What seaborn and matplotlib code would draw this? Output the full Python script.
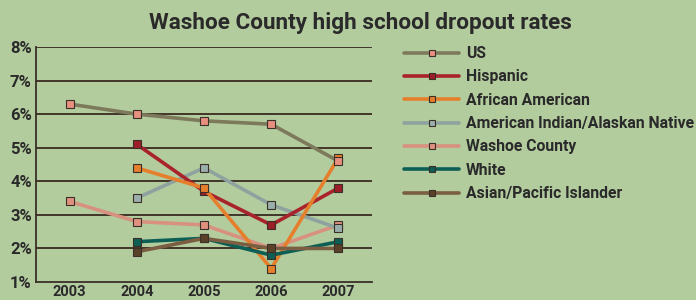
import matplotlib
matplotlib.use("Agg")
import matplotlib.pyplot as plt
import seaborn as sns
import pandas as pd
import numpy as np

years = ["2003", "2004", "2005", "2006", "2007"]
us = [6.3, 6.0, 5.8, 5.7, 4.6]
hispanic = [np.nan, 5.1, 3.7, 2.7, 3.8]
african_american = [np.nan, 4.4, 3.8, 1.4, 4.7]
american_indian = [np.nan, 3.5, 4.4, 3.3, 2.6]
washoe = [3.4, 2.8, 2.7, 2.0, 2.7]
white = [np.nan, 2.2, 2.3, 1.8, 2.2]
asian = [np.nan, 1.9, 2.3, 2.0, 2.0]

series_names = ["US", "Hispanic", "African American", "American Indian/Alaskan Native",
                "Washoe County", "White", "Asian/Pacific Islander"]
series_values = [us, hispanic, african_american, american_indian, washoe, white, asian]

line_colors = ["#7d7a5c", "#a8232b", "#e57f2b", "#8ea39f", "#d8907f", "#0d5e55", "#7b5d42"]
marker_colors = ["#e8907f", "#9c1e26", "#e57f2b", "#9aaeab", "#e0907f", "#0d5e55", "#5a4028"]
draw_order = [4, 3, 1, 2, 5, 6, 0]

bg = "#b3cc9e"
ink = "#2a2a2a"

rows = []
for name, vals in zip(series_names, series_values):
    for i, (y, v) in enumerate(zip(years, vals)):
        if not np.isnan(v):
            rows.append({"series": name, "x": i, "year": y, "rate": v})
df = pd.DataFrame(rows)

sns.set_theme(style="white")
plt.rcParams["font.family"] = ["Roboto", "DejaVu Sans"]

fig = plt.figure(figsize=(6.96, 3.0), dpi=100, facecolor=bg)
ax = fig.add_axes([36 / 696, 18 / 300, (372 - 36) / 696, (282 - 47) / 300])
ax.set_facecolor(bg)

for idx in draw_order:
    name = series_names[idx]
    sub = df[df["series"] == name]
    sns.lineplot(data=sub, x="x", y="rate", ax=ax, color=line_colors[idx], linewidth=2.6,
                 marker="s", markersize=5.5, markerfacecolor=marker_colors[idx],
                 markeredgecolor="#3a3028", markeredgewidth=0.8, legend=False, zorder=3)

ax.set_xlim(-0.5, 4.5)
ax.set_ylim(1, 8)
ax.set_yticks(range(1, 9))
ax.set_yticklabels([f"{v}%" for v in range(1, 9)], fontsize=12, fontweight="bold", color=ink)
ax.set_xticks(range(5))
ax.set_xticklabels(years, fontsize=10.5, fontweight="bold", color=ink)
ax.set_xticks([0.5, 1.5, 2.5, 3.5], minor=True)
ax.tick_params(axis="x", which="major", length=0, pad=2)
ax.tick_params(axis="x", which="minor", length=5, direction="in", color="#3a3028", width=1.2)
ax.tick_params(axis="y", length=0, pad=3)
ax.set_xlabel("")
ax.set_ylabel("")
for v in range(2, 9):
    ax.axhline(v, color="#3a2a20", linewidth=1.3, zorder=1)
for s in ["top", "right"]:
    ax.spines[s].set_visible(False)
for s in ["left", "bottom"]:
    ax.spines[s].set_color("#3a3028")
    ax.spines[s].set_linewidth(1.3)

handles = [plt.Line2D([], [], color=line_colors[i], linewidth=2.6, marker="s", markersize=4.5,
                      markerfacecolor=marker_colors[i], markeredgecolor="#3a3028", markeredgewidth=0.8)
           for i in range(len(series_names))]
fig.legend(handles, series_names, loc="upper left", bbox_to_anchor=(390 / 696, 1 - 32 / 300),
           frameon=False, handlelength=3.5, labelspacing=0.53, handletextpad=0.45,
           prop={"size": 11.3, "weight": "bold"}, labelcolor=ink)

fig.text(360 / 696, 1 - 23 / 300, "Washoe County high school dropout rates",
         ha="center", va="center", fontsize=16.2, fontweight="bold", color=ink)

fig.savefig("out.png", dpi=100, facecolor=bg)
